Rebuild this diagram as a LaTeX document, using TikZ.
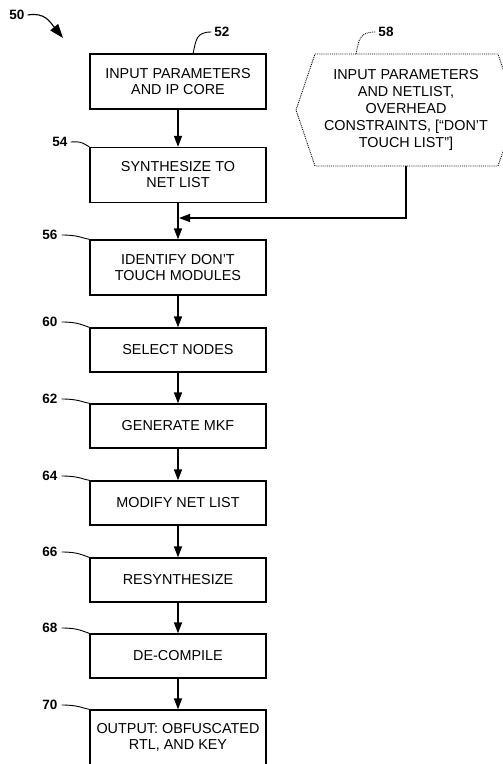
\documentclass[tikz,border=0pt]{standalone}
\usepackage{fontspec}
\setmainfont{Liberation Sans}
\usetikzlibrary{arrows.meta,calc}
\begin{document}
\begin{tikzpicture}[x=1pt,y=-1pt,
  stepbox/.style={draw,line width=1.3pt,minimum width=176pt,inner sep=0pt,align=center,
    font=\fontsize{14.4}{16}\selectfont},
  tall/.style={minimum height=55pt},
  short/.style={minimum height=44pt},
  flow/.style={line width=1.4pt,-{Triangle[length=11pt,width=8pt]}},
  leader/.style={line width=0.9pt},
  reflabel/.style={font=\fontsize{13.5}{15}\selectfont\bfseries,inner sep=0pt}]
\useasboundingbox (0,0) rectangle (503,764);
\clip (0,0) rectangle (503,764);

% boxes
\node[stepbox,tall]  (b52) at (178,81.5) {INPUT PARAMETERS\\AND IP CORE};
\node[stepbox,tall]  (b54) at (178,175) {SYNTHESIZE TO\\NET LIST};
\node[stepbox,tall]  (b56) at (178,267.5) {IDENTIFY DON’T\\TOUCH MODULES};
\node[stepbox,short] (b60) at (178,350) {SELECT NODES};
\node[stepbox,short] (b62) at (178,426) {GENERATE MKF};
\node[stepbox,short] (b64) at (178,503) {MODIFY NET LIST};
\node[stepbox,short] (b66) at (178,580) {RESYNTHESIZE};
\node[stepbox,short] (b68) at (178,656) {DE-COMPILE};
\node[stepbox,tall]  (b70) at (178,737.5) {OUTPUT: OBFUSCATED\\RTL, AND KEY};

% hexagon 58
\coordinate (h1) at (315,54);
\coordinate (h2) at (498,54);
\coordinate (h3) at (517,110);
\coordinate (h4) at (498,166);
\coordinate (h5) at (315,166);
\coordinate (h6) at (296,110);
\draw[densely dotted,line width=0.9pt] (h1) -- (h2) -- (h3) -- (h4) -- (h5) -- (h6) -- cycle;
\node[align=center,inner sep=0pt,font=\fontsize{14.4}{17}\selectfont] (b58) at (406,110)
  {INPUT PARAMETERS\\AND NETLIST,\\OVERHEAD\\CONSTRAINTS, [“DON’T\\TOUCH LIST”]};
\coordinate (h58b) at (406,166);
\coordinate (merge) at (179,218);

% flow arrows
\draw[flow] (b52) -- (b54);
\draw[flow] (b54) -- (b56);
\draw[flow] (h58b) |- (merge);
\draw[flow] (b56) -- (b60);
\draw[flow] (b60) -- (b62);
\draw[flow] (b62) -- (b64);
\draw[flow] (b64) -- (b66);
\draw[flow] (b66) -- (b68);
\draw[flow] (b68) -- (b70);

% reference labels
\node[reflabel] (l50) at (17,15) {50};
\coordinate (a50) at (63,38);
\draw[line width=1.1pt,-{Triangle[length=14pt,width=10pt]}] (l50.east) ++(3,0) .. controls (45,12) and (50,22) .. (a50);

\node[reflabel] (l52) at (222,32) {52};
\coordinate (c52) at (193,54);
\draw[leader] (c52) .. controls (196,40) and (196,32) .. ([xshift=-3pt]l52.west);

\node[reflabel] (l58) at (386,32) {58};
\coordinate (c58) at (356,54);
\draw[leader,densely dotted] (c58) .. controls (359,40) and (359,32) .. ([xshift=-3pt]l58.west);

\node[reflabel] (l54) at (60,142) {54};
\draw[leader] ([xshift=3pt]l54.east) .. controls (82,141) and (84,144) .. (b54.north west);

\foreach \n/\y in {56/235,60/322,62/399,64/476,66/552,68/628,70/705}{
  \node[reflabel] (l\n) at (50,\y) {\n};
  \draw[leader] ([xshift=4pt]l\n.east) .. controls (78,\y) and (82,\y+3) .. (b\n.north west);
}
\end{tikzpicture}
\end{document}
